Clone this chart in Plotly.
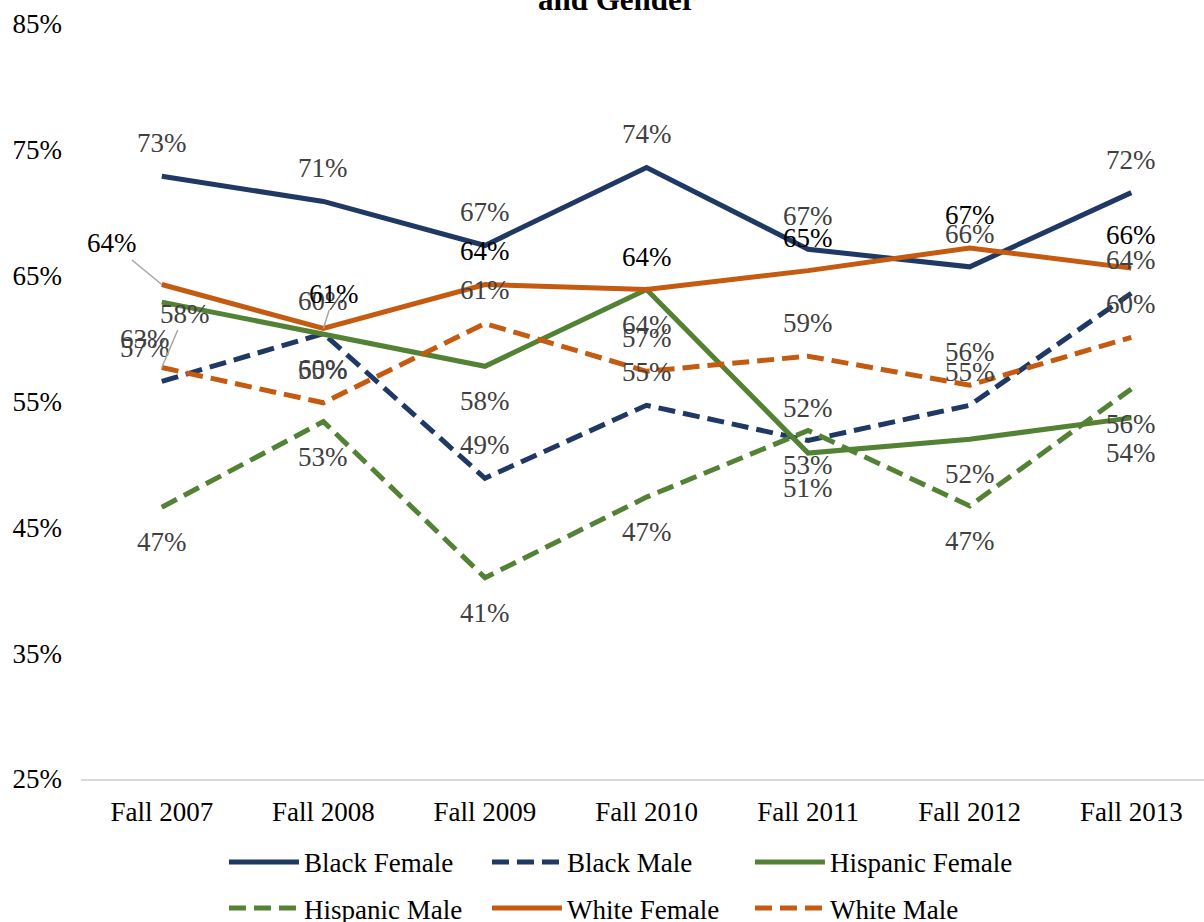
import plotly.graph_objects as go

# Terms on the x axis
terms = ["Fall 2007", "Fall 2008", "Fall 2009", "Fall 2010", "Fall 2011", "Fall 2012", "Fall 2013"]

# Rates by group, in percent
black_female = [72.9, 70.9, 67.4, 73.6, 67.1, 65.7, 71.6]
black_male = [56.6, 60.4, 48.9, 54.7, 51.9, 54.7, 63.6]
hispanic_female = [62.9, 60.4, 57.8, 63.9, 50.9, 52.0, 53.7]
hispanic_male = [46.6, 53.4, 41.0, 47.4, 52.7, 46.7, 56.0]
white_female = [64.3, 60.8, 64.3, 63.9, 65.4, 67.2, 65.6]
white_male = [57.7, 54.9, 61.2, 57.4, 58.6, 56.3, 60.1]

y_ticks = [25, 35, 45, 55, 65, 75, 85]
y_tick_labels = [f"{t}%" for t in y_ticks]

NAVY = "#1F3864"
GREEN = "#548235"
ORANGE = "#C55A11"
LABEL_GRAY = "#404040"
FONT = "Liberation Serif"
FS = 27
DASH = "17px,8px"

# name, values, colour, dash, legend row
series = [
    ("Black Female", black_female, NAVY, "solid", "legend"),
    ("Black Male", black_male, NAVY, DASH, "legend"),
    ("Hispanic Female", hispanic_female, GREEN, "solid", "legend"),
    ("Hispanic Male", hispanic_male, GREEN, DASH, "legend2"),
    ("White Female", white_female, ORANGE, "solid", "legend2"),
    ("White Male", white_male, ORANGE, DASH, "legend2"),
]

fig = go.Figure()
for name, vals, color, dash, leg in series:
    fig.add_trace(go.Scatter(
        x=terms, y=vals, name=name, mode="lines", legend=leg,
        line=dict(color=color, width=5, dash=dash),
        hoverinfo="skip",
    ))

# Default label placement per series: vertical offset in px (negative = above)
default_shift = {
    "Black Female": -33,
    "Black Male": -33,
    "Hispanic Female": 35,
    "Hispanic Male": 35,
    "White Female": -33,
    "White Male": -33,
}
label_color = {
    "Black Female": LABEL_GRAY,
    "Black Male": LABEL_GRAY,
    "Hispanic Female": LABEL_GRAY,
    "Hispanic Male": LABEL_GRAY,
    "White Female": "#000000",
    "White Male": LABEL_GRAY,
}
# Individual labels moved to avoid collisions: (series, index) -> (dx, dy, leader line)
moved = {
    ("White Female", 0): (-50, -41, True),
    ("White Female", 1): (11, -35, True),
    ("White Male", 0): (23, -54, True),
    ("Hispanic Female", 0): (-17, 37, False),
    ("Black Male", 0): (-17, -33, False),
}

annotations = []
for name, vals, color, dash, leg in series:
    for i, v in enumerate(vals):
        txt = f"{round(v)}%"
        dx, dy, leader = moved.get((name, i), (0, default_shift[name], False))
        font = dict(family=FONT, size=FS, color=label_color[name])
        if leader:
            annotations.append(dict(
                x=terms[i], y=v, xref="x", yref="y", text=txt, font=font,
                showarrow=True, arrowhead=0, arrowwidth=1.5, arrowcolor="#A6A6A6",
                ax=dx, ay=dy, standoff=0,
            ))
        else:
            annotations.append(dict(
                x=terms[i], y=v, xref="x", yref="y", text=txt, font=font,
                showarrow=False, xshift=dx, yshift=-dy,
            ))

# Second line of the chart heading, sitting at the top edge
annotations.append(dict(
    x=0.477, y=1, xref="paper", yref="paper", text="<b>and Gender</b>",
    showarrow=False, yanchor="bottom", yshift=5,
    font=dict(family=FONT, size=31, color="#000000"),
))

legend_common = dict(
    orientation="h", xanchor="left", yanchor="top",
    font=dict(family=FONT, size=FS, color="#000000"),
    entrywidth=178, itemwidth=70, bgcolor="rgba(0,0,0,0)",
)

fig.update_layout(
    width=1204, height=922,
    margin=dict(l=81, r=0, t=24, b=143, autoexpand=False),
    paper_bgcolor="white", plot_bgcolor="white",
    font=dict(family=FONT, size=FS, color="#000000"),
    showlegend=True,
    legend=dict(x=0.1273, y=-0.078, **legend_common),
    legend2=dict(x=0.1273, y=-0.139, **legend_common),
    annotations=annotations,
    xaxis=dict(
        range=[-0.5, 6.45], showgrid=False, zeroline=False,
        showline=True, linecolor="#D9D9D9", linewidth=2,
        ticks="", tickfont=dict(family=FONT, size=FS, color="#000000"),
        ticklabelstandoff=8,
    ),
    yaxis=dict(
        range=[25, 85], tickvals=y_ticks, ticktext=y_tick_labels,
        showgrid=False, zeroline=False, showline=False, ticks="",
        tickfont=dict(family=FONT, size=FS, color="#000000"),
        ticklabelstandoff=18,
    ),
)

fig.write_html("out.html")
